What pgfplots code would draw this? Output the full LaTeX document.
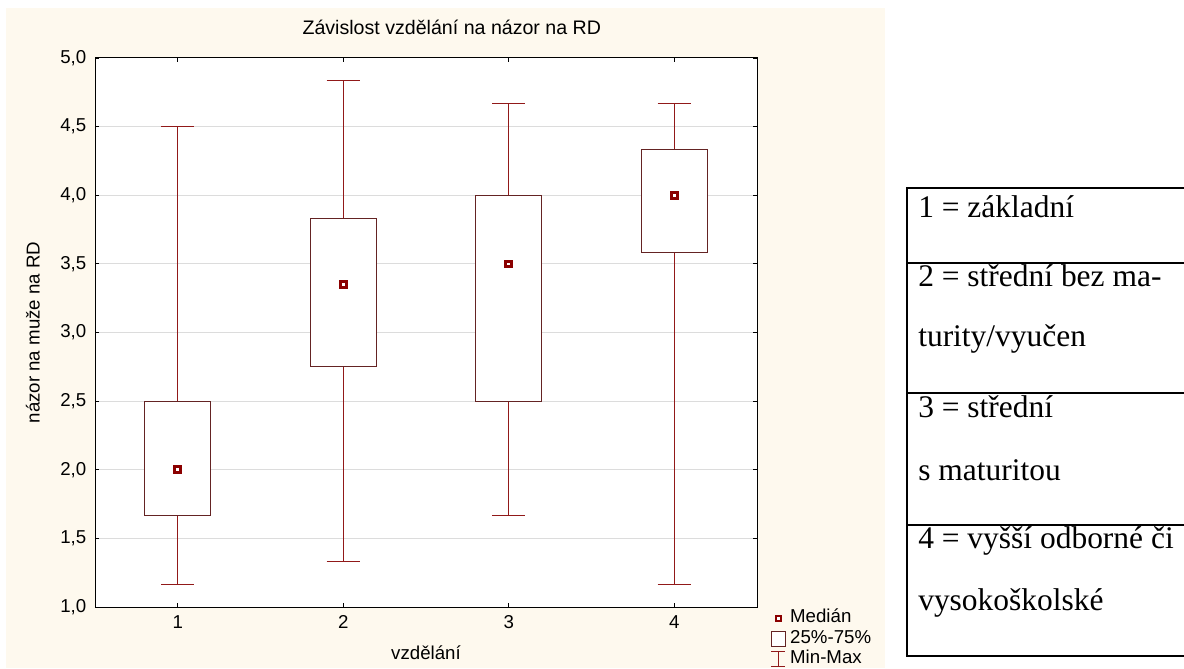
\documentclass[border=0pt]{standalone}
\usepackage{fontspec}
\setmainfont{Liberation Serif}
\newfontfamily\arial{Liberation Sans}
\usepackage{pgfplots}
\pgfplotsset{compat=1.18}
\usepgfplotslibrary{statistics}
\definecolor{cream}{RGB}{254,249,238}
\definecolor{boxcol}{RGB}{100,35,35}
\definecolor{whiskcol}{RGB}{145,25,25}
\definecolor{medcol}{RGB}{139,0,0}
\definecolor{gridcol}{RGB}{220,220,220}
\newcommand{\cf}{\arial\fontsize{14}{16}\selectfont}
\newcommand{\titf}{\arial\fontsize{14.7}{16}\selectfont}
\newcommand{\tabf}{\fontsize{23.6}{26}\selectfont}
\begin{document}
\begin{tikzpicture}
\path[use as bounding box] (0pt,0pt) rectangle (888pt,501pt);
\fill[cream] (4.5pt,0pt) rectangle (663.75pt,495pt);
\begin{axis}[
  at={(71.25pt,45.75pt)}, anchor=south west,
  scale only axis, width=496.5pt, height=411.75pt,
  xmin=0.5, xmax=4.5, ymin=1, ymax=5,
  xtick={1,2,3,4},
  ytick={1,1.5,2,2.5,3,3.5,4,4.5,5},
  tick align=inside, major tick length=3pt,
  tick style={black, line width=0.6pt},
  axis line style={black, line width=0.75pt},
  ymajorgrids, grid style={gridcol, line width=0.75pt},
  axis background/.style={fill=white},
  /pgf/number format/assume math mode=true,
  tick label style={font=\cf},
  yticklabel style={xshift=-3pt, /pgf/number format/.cd, fixed, fixed zerofill, precision=1, use comma},
  xticklabel style={yshift=-3pt, /pgf/number format/.cd, fixed, precision=0},
  title={Závislost vzdělání na názor na RD},
  title style={font=\titf, at={(axis description cs:0.539,1.029)}, anchor=base, inner sep=0pt},
  xlabel={vzdělání},
  xlabel style={font=\cf, at={(axis description cs:0.5,-0.0965)}, anchor=base, inner sep=0pt},
  ylabel={názor na muže na RD},
  ylabel style={font=\cf, at={(axis description cs:-0.0937,0.5)}, anchor=center, inner sep=0pt},
  legend style={at={(axis description cs:1.02,-0.003)}, anchor=north west, draw=none, fill=none,
    font=\cf, inner sep=0pt, row sep=1.25pt, column sep=3pt,
    nodes={inner sep=0.5pt, text height=10pt, text depth=3pt}},
  legend cell align=left,
  boxplot/draw direction=y,
  boxplot/every box/.style={draw=boxcol, fill=white, line width=0.75pt},
  boxplot/every whisker/.style={whiskcol, line width=0.8pt},
  boxplot/draw/median/.code={},
]
\addlegendimage{legend image code/.code={\draw[medcol, line width=1.8pt, fill=white] (3.6pt,-1.9pt) rectangle (7.4pt,1.9pt);}}
\addlegendentry{Medián}
\addlegendimage{legend image code/.code={\draw[boxcol, line width=0.75pt, fill=white] (0pt,-5.6pt) rectangle (10.5pt,5.6pt);}}
\addlegendentry{25\%-75\%}
\addlegendimage{legend image code/.code={\draw[whiskcol, line width=0.75pt] (5.25pt,-5.6pt)--(5.25pt,5.6pt) (0pt,5.6pt)--(10.5pt,5.6pt) (0pt,-5.6pt)--(10.5pt,-5.6pt);}}
\addlegendentry{Min-Max}

\addplot[boxplot prepared={draw position=1, lower whisker=1.167, lower quartile=1.667, median=2, upper quartile=2.5, upper whisker=4.5, box extend=0.4, whisker extend=0.2}] coordinates {};
\addplot[boxplot prepared={draw position=2, lower whisker=1.333, lower quartile=2.75, median=3.35, upper quartile=3.833, upper whisker=4.833, box extend=0.4, whisker extend=0.2}] coordinates {};
\addplot[boxplot prepared={draw position=3, lower whisker=1.667, lower quartile=2.5, median=3.5, upper quartile=4.0, upper whisker=4.667, box extend=0.4, whisker extend=0.2}] coordinates {};
\addplot[boxplot prepared={draw position=4, lower whisker=1.167, lower quartile=3.583, median=4.0, upper quartile=4.333, upper whisker=4.667, box extend=0.4, whisker extend=0.2}] coordinates {};
\addplot[only marks, mark=square*, mark size=2.1pt, mark options={draw=medcol, fill=white, line width=2.2pt}] coordinates {(1,2) (2,3.35) (3,3.5) (4,4)};
\end{axis}
% side table
\draw[line width=1.25pt] (888pt,360pt) -- (680.25pt,360pt) -- (680.25pt,9pt) -- (888pt,9pt);
\draw[line width=1.25pt] (680.25pt,303.75pt) -- (888pt,303.75pt);
\draw[line width=1.25pt] (680.25pt,206.25pt) -- (888pt,206.25pt);
\draw[line width=1.25pt] (680.25pt,107.25pt) -- (888pt,107.25pt);
\node[anchor=base west, inner sep=0pt, font=\tabf] at (688.5pt,337.5pt) {1 = základní};
\node[anchor=base west, inner sep=0pt, font=\tabf] at (688.5pt,285.75pt) {2 = střední bez ma-};
\node[anchor=base west, inner sep=0pt, font=\tabf] at (688.5pt,240.75pt) {turity/vyučen};
\node[anchor=base west, inner sep=0pt, font=\tabf] at (688.5pt,188.25pt) {3 = střední};
\node[anchor=base west, inner sep=0pt, font=\tabf] at (688.5pt,141pt) {s maturitou};
\node[anchor=base west, inner sep=0pt, font=\tabf] at (688.5pt,90pt) {4 = vyšší odborné či};
\node[anchor=base west, inner sep=0pt, font=\tabf] at (688.5pt,43.5pt) {vysokoškolské};
\end{tikzpicture}
\end{document}
